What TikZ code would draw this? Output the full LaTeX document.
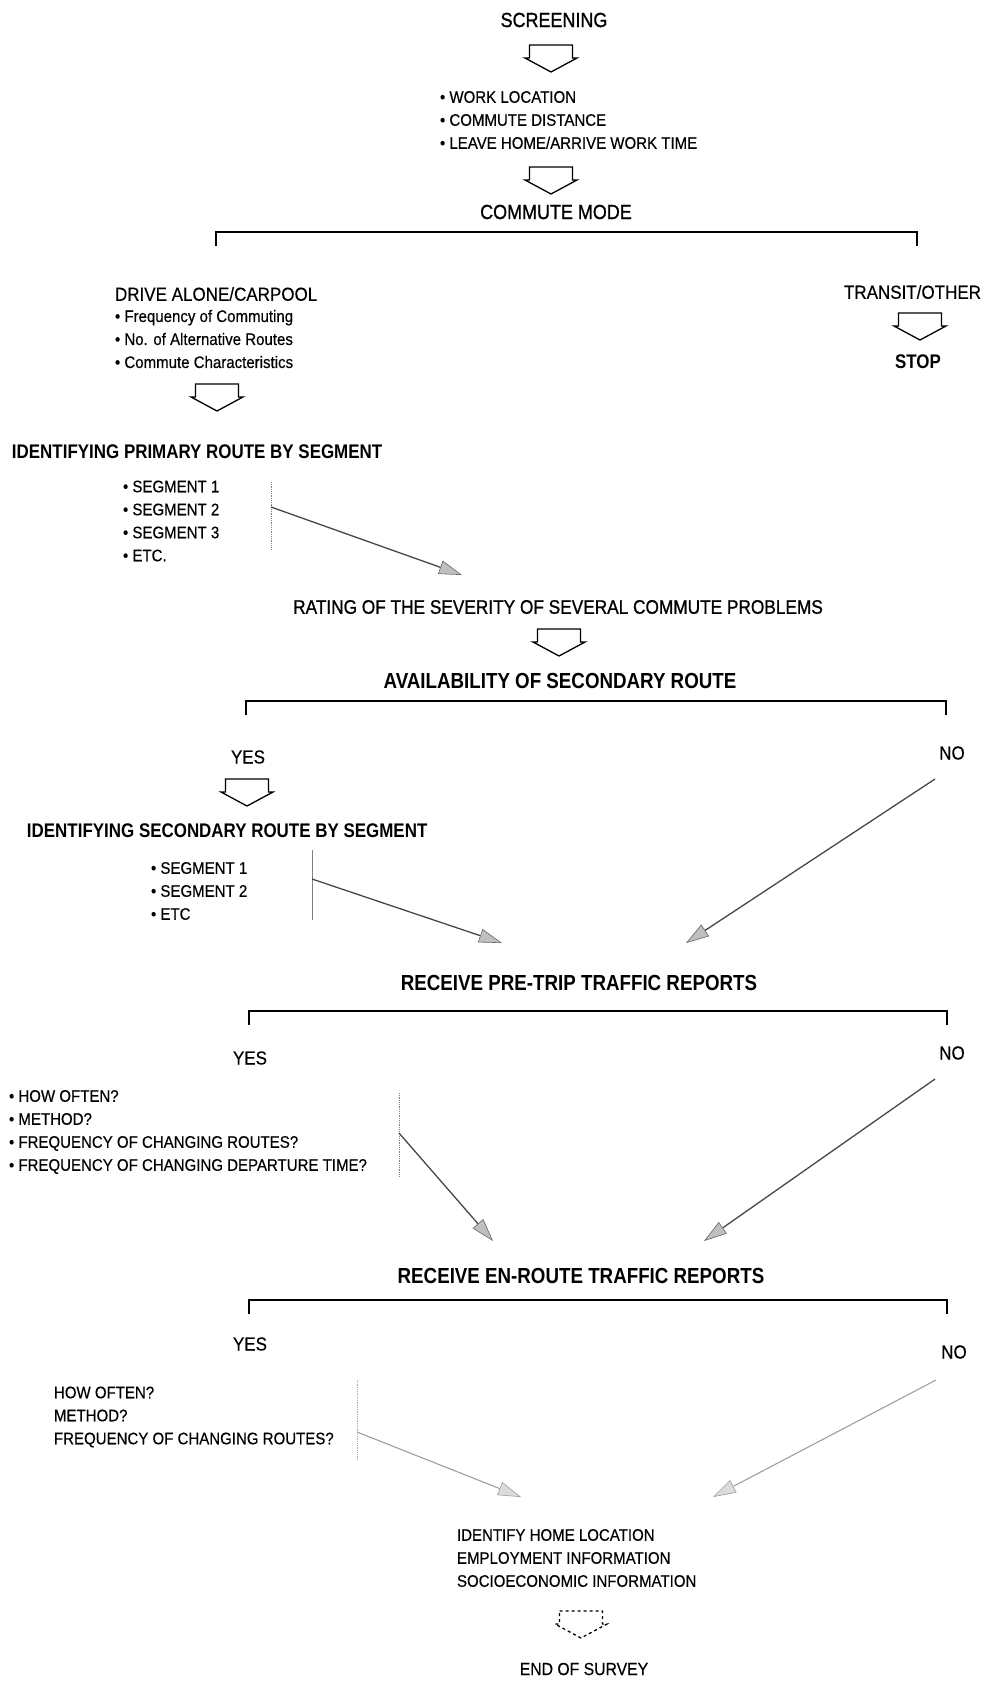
\documentclass[tikz,border=0pt]{standalone}
\usepackage{fontspec}
\setmainfont{Liberation Sans}
\newfontfamily\plainfont[FakeStretch=0.9, FakeBold=0.35]{Liberation Sans}
\newfontfamily\medfont[FakeStretch=0.88, FakeBold=1.0]{Liberation Sans}
\newfontfamily\headfont[FakeStretch=0.86]{Liberation Sans}
\usetikzlibrary{arrows.meta,calc}
\begin{document}
\begin{tikzpicture}[x=1pt,y=-1pt,
  every node/.style={inner sep=0pt, outer sep=0pt},
  heading/.style={font=\headfont\bfseries\fontsize{21.8}{24}\selectfont},
  medhead/.style={font=\medfont\fontsize{20.4}{24}\selectfont},
  subhead/.style={font=\headfont\bfseries\fontsize{19.7}{24}\selectfont},
  choice/.style={font=\plainfont\fontsize{18.9}{22}\selectfont},
  listtext/.style={font=\plainfont\fontsize{16.7}{23}\selectfont, align=left, anchor=west},
  bracketline/.style={line width=1.4pt},
  seam/.style={gray, line width=0.8pt, densely dotted},
  feed/.style={draw=black!72, line width=1.3pt,
    -{Triangle[length=23pt,width=14pt,color=black!60,fill=gray!50,line width=0.6pt]}},
  feedlight/.style={draw=black!38, line width=1.1pt,
    -{Triangle[length=23pt,width=14pt,color=black!38,fill=gray!28,line width=0.6pt]}},
  blockarrow/.pic={\draw[line width=1.3pt, line join=miter]
      (-21.5,0) -- (21.5,0) -- (21.5,13) -- (26,13) -- (0,27) -- (-26,13) -- (-21.5,13) -- cycle;}
]
\useasboundingbox (0,0) rectangle (987,1681);

% ---- screening ----
\node[medhead] (screen) at (554,20) {SCREENING};
\pic at (551,45) {blockarrow};
\node[listtext] (basics) at (440,120) {• WORK LOCATION\\• COMMUTE DISTANCE\\• LEAVE HOME/ARRIVE WORK TIME};
\pic at (551,167) {blockarrow};
\node[medhead] (mode) at (556,212) {COMMUTE MODE};

% ---- commute mode split ----
\coordinate (b1l) at (216,232);
\coordinate (b1r) at (917,232);
\draw[bracketline] ($(b1l)+(0,14)$) -- (b1l) -- (b1r) -- ($(b1r)+(0,14)$);

\node[choice, anchor=west] (drive) at (115,294) {DRIVE ALONE/CARPOOL};
\node[listtext] (drivelist) at (115,339) {• Frequency of Commuting\\• No. of Alternative Routes\\• Commute Characteristics};
\node[choice, anchor=east] (transit) at (981,292) {TRANSIT/OTHER};
\pic at (920,313) {blockarrow};
\node[subhead] (stop) at (918,362) {STOP};
\pic at (217,384) {blockarrow};

% ---- primary route ----
\node[subhead, anchor=west] (primary) at (12,452) {IDENTIFYING PRIMARY ROUTE BY SEGMENT};
\node[listtext] (seg1) at (123,521) {• SEGMENT 1\\• SEGMENT 2\\• SEGMENT 3\\• ETC.};
\coordinate (v1t) at (271,482);
\coordinate (v1b) at (271,550);
\draw[seam] (v1t) -- (v1b);
\coordinate (v1m) at (271,507);
\coordinate (d1) at (462,575);
\draw[feed] (v1m) -- (d1);

\node[medhead, font=\medfont\fontsize{19.6}{24}\selectfont] (rating) at (558,607) {RATING OF THE SEVERITY OF SEVERAL COMMUTE PROBLEMS};
\pic at (559,629) {blockarrow};

% ---- secondary route ----
\node[heading] (avail) at (560,681) {AVAILABILITY OF SECONDARY ROUTE};
\coordinate (b2l) at (246,701);
\coordinate (b2r) at (946,701);
\draw[bracketline] ($(b2l)+(0,14)$) -- (b2l) -- (b2r) -- ($(b2r)+(0,14)$);
\node[choice] (yes2) at (248,757) {YES};
\node[choice] (no2) at (952,753) {NO};
\pic at (247,779) {blockarrow};
\node[subhead, anchor=west] (secondary) at (27,831) {IDENTIFYING SECONDARY ROUTE BY SEGMENT};
\node[listtext] (seg2) at (151,891) {• SEGMENT 1\\• SEGMENT 2\\• ETC};
\coordinate (v2t) at (312,850);
\coordinate (v2b) at (312,920);
\draw[gray, line width=0.8pt] (v2t) -- (v2b);
\coordinate (v2m) at (312,879);
\coordinate (d2) at (502,943);
\draw[feed] (v2m) -- (d2);
\coordinate (n2) at (935,779);
\coordinate (d3) at (686,943);
\draw[feed] (n2) -- (d3);

% ---- pre-trip reports ----
\node[heading] (pretrip) at (579,983) {RECEIVE PRE-TRIP TRAFFIC REPORTS};
\coordinate (b3l) at (249,1011);
\coordinate (b3r) at (947,1011);
\draw[bracketline] ($(b3l)+(0,14)$) -- (b3l) -- (b3r) -- ($(b3r)+(0,14)$);
\node[choice] (yes3) at (250,1058) {YES};
\node[choice] (no3) at (952,1053) {NO};
\node[listtext] (pre) at (9,1132) {• HOW OFTEN?\\• METHOD?\\• FREQUENCY OF CHANGING ROUTES?\\• FREQUENCY OF CHANGING DEPARTURE TIME?};
\coordinate (v3t) at (399,1093);
\coordinate (v3b) at (399,1176);
\draw[seam] (v3t) -- (v3b);
\coordinate (v3m) at (399,1133);
\coordinate (d4) at (493,1241);
\draw[feed] (v3m) -- (d4);
\coordinate (n3) at (935,1079);
\coordinate (d5) at (704,1241);
\draw[feed] (n3) -- (d5);

% ---- en-route reports ----
\node[heading] (enroute) at (581,1276) {RECEIVE EN-ROUTE TRAFFIC REPORTS};
\coordinate (b4l) at (249,1300);
\coordinate (b4r) at (947,1300);
\draw[bracketline] ($(b4l)+(0,14)$) -- (b4l) -- (b4r) -- ($(b4r)+(0,14)$);
\node[choice] (yes4) at (250,1344) {YES};
\node[choice] (no4) at (954,1352) {NO};
\node[listtext] (en) at (54,1417) {HOW OFTEN?\\METHOD?\\FREQUENCY OF CHANGING ROUTES?};
\coordinate (v4t) at (357,1380);
\coordinate (v4b) at (357,1460);
\draw[seam, gray!70] (v4t) -- (v4b);
\coordinate (v4m) at (357,1432);
\coordinate (d6) at (521,1497);
\draw[feedlight] (v4m) -- (d6);
\coordinate (n4) at (936,1380);
\coordinate (d7) at (713,1497);
\draw[feedlight] (n4) -- (d7);

% ---- closing ----
\node[listtext] (home) at (457,1558) {IDENTIFY HOME LOCATION\\EMPLOYMENT INFORMATION\\SOCIOECONOMIC INFORMATION};
\pic[dashed] at (581,1611) {blockarrow};
\node[choice, font=\plainfont\fontsize{17.5}{22}\selectfont] (endsurvey) at (584,1669) {END OF SURVEY};
\end{tikzpicture}
\end{document}
